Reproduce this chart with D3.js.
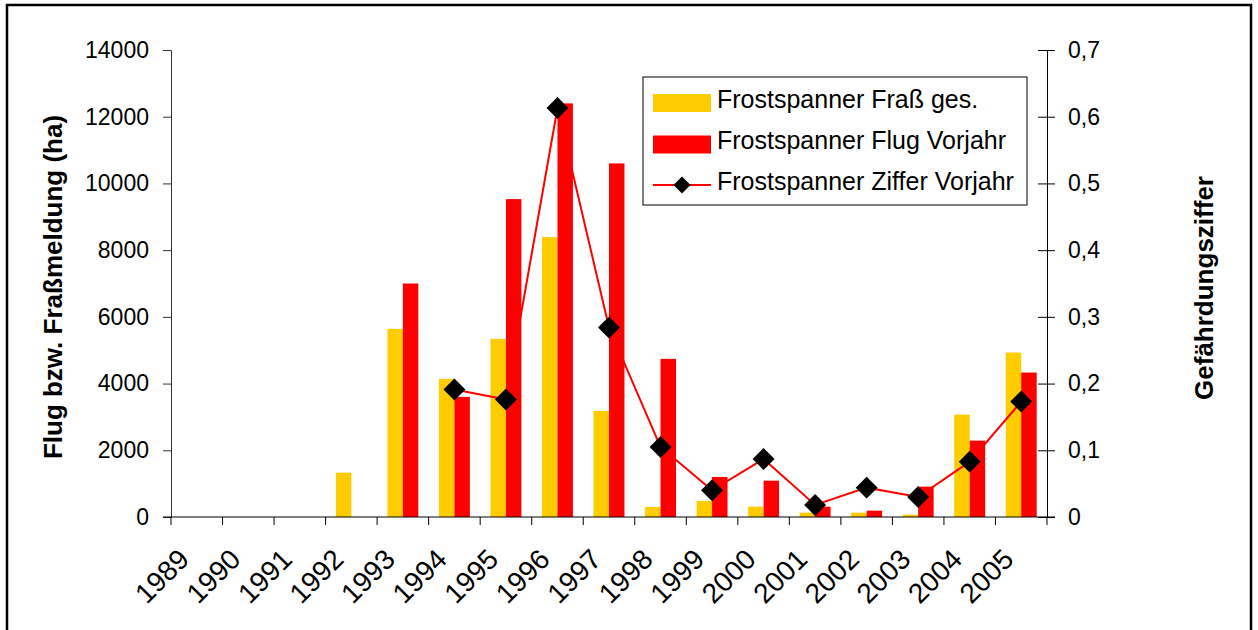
<!DOCTYPE html>
<html>
<head>
<meta charset="utf-8">
<script src="https://cdn.jsdelivr.net/npm/d3@7"></script>
<style>
  html, body { margin: 0; padding: 0; background: #fff; }
  svg { display: block; font-family: "Liberation Sans", Arial, sans-serif; }
</style>
</head>
<body>
<svg id="chart" width="1258" height="630"></svg>
<script>
// ---- data ----
const years = ["1989","1990","1991","1992","1993","1994","1995","1996","1997","1998","1999","2000","2001","2002","2003","2004","2005"];
const frassGes = [null,null,null,1330,5640,4140,5340,8390,3180,300,480,310,130,130,70,3070,4930];
const flugVorjahr = [null,null,null,null,7000,3600,9530,12400,10600,4740,1200,1090,310,190,910,2290,4330];
const zifferVorjahr = [null,null,null,null,null,0.191,0.176,0.613,0.284,0.105,0.040,0.087,0.018,0.044,0.030,0.083,0.173];
const leftTicks = [0,2000,4000,6000,8000,10000,12000,14000];
const rightTicks = [0,0.1,0.2,0.3,0.4,0.5,0.6,0.7];
const seriesNames = ["Frostspanner Fraß ges.","Frostspanner Flug Vorjahr","Frostspanner Ziffer Vorjahr"];
const leftTitle = "Flug bzw. Fraßmeldung (ha)";
const rightTitle = "Gefährdungsziffer";

const YELLOW = "#FFCC00", RED = "#FF0000";

const svg = d3.select("#chart");

// outer frame
svg.append("rect").attr("x",7).attr("y",5).attr("width",1244).attr("height",640)
  .attr("fill","none").attr("stroke","#000").attr("stroke-width",2.5);

const x = d3.scaleBand().domain(years).range([171,1047]).paddingInner(0.4).paddingOuter(0.2);
const xs = d3.scaleBand().domain(["frass","flug"]).range([0, x.bandwidth()]);
const yL = d3.scaleLinear().domain([0,14000]).range([517,50]);
const yR = d3.scaleLinear().domain([0,0.7]).range([517,50]);
const step = x.step();
const x0 = x.range()[0], x1 = x.range()[1];

// bars
const gBars = svg.append("g");
years.forEach((yr,i) => {
  if (frassGes[i] != null) {
    gBars.append("rect").attr("x", x(yr)+xs("frass")).attr("width", xs.bandwidth())
      .attr("y", yL(frassGes[i])).attr("height", yL(0)-yL(frassGes[i])).attr("fill", YELLOW);
  }
  if (flugVorjahr[i] != null) {
    gBars.append("rect").attr("x", x(yr)+xs("flug")).attr("width", xs.bandwidth())
      .attr("y", yL(flugVorjahr[i])).attr("height", yL(0)-yL(flugVorjahr[i])).attr("fill", RED);
  }
});

// left axis
const axL = svg.append("g").attr("transform",`translate(${x0},0)`)
  .call(d3.axisLeft(yL).tickValues(leftTicks).tickFormat(d3.format("d")).tickSize(8).tickPadding(14));
axL.select(".domain").attr("stroke","#333");
axL.selectAll(".tick line").attr("stroke","#333");
axL.selectAll("text").attr("font-size",23).attr("fill","#000").attr("font-family","Liberation Sans, Arial, sans-serif");

// right axis
const axR = svg.append("g").attr("transform",`translate(${x1},0)`)
  .call(d3.axisRight(yR).tickValues(rightTicks)
    .tickFormat(d => d===0 ? "0" : d3.format(".1f")(d).replace(".",",")).tickSize(8).tickPadding(13));
axR.selectAll(".tick line").attr("x1",-9).attr("stroke","#000");
axR.select(".domain").attr("stroke","#000");
axR.selectAll("text").attr("font-size",23).attr("fill","#000").attr("font-family","Liberation Sans, Arial, sans-serif");

// x axis (category boundaries)
const gx = svg.append("g");
gx.append("line").attr("x1",x0-8).attr("x2",x1+8).attr("y1",yL(0)).attr("y2",yL(0)).attr("stroke","#000");
d3.range(years.length+1).forEach(k => {
  const xx = x0 + k*step;
  gx.append("line").attr("x1",xx).attr("x2",xx).attr("y1",yL(0)).attr("y2",yL(0)+8).attr("stroke","#000");
});
years.forEach(yr => {
  const cx = x(yr) + x.bandwidth()/2 - 6;
  gx.append("text").attr("transform",`translate(${cx},${yL(0)+44}) rotate(-45)`)
    .attr("text-anchor","end").attr("font-size",28).text(yr);
});

// line series
const pts = years.map((yr,i) => ({yr, v: zifferVorjahr[i]})).filter(d => d.v != null);
const line = d3.line().x(d => x(d.yr)+x.bandwidth()/2).y(d => yR(d.v));
svg.append("path").datum(pts).attr("d", line).attr("fill","none").attr("stroke",RED).attr("stroke-width",2);
const diamond = d3.symbol().type(d3.symbolSquare).size(15.5*15.5);
svg.append("g").selectAll("path").data(pts).join("path")
  .attr("d", diamond)
  .attr("transform", d => `translate(${x(d.yr)+x.bandwidth()/2},${yR(d.v)}) rotate(45)`)
  .attr("fill","#000");

// axis titles
svg.append("text").attr("transform",`translate(62,287) rotate(-90)`).attr("text-anchor","middle")
  .attr("font-size",26).attr("font-weight","bold").text(leftTitle);
svg.append("text").attr("transform",`translate(1213,288) rotate(-90)`).attr("text-anchor","middle")
  .attr("font-size",26).attr("font-weight","bold").text(rightTitle);

// legend
const lg = svg.append("g");
lg.append("rect").attr("x",643).attr("y",77).attr("width",384).attr("height",128)
  .attr("fill","#fff").attr("stroke","#000").attr("stroke-width",1);
const rowsY = [103, 144.5, 185];
lg.append("rect").attr("x",653).attr("y",rowsY[0]-9).attr("width",58).attr("height",18).attr("fill",YELLOW);
lg.append("rect").attr("x",653).attr("y",rowsY[1]-9).attr("width",58).attr("height",18).attr("fill",RED);
lg.append("line").attr("x1",653).attr("x2",711).attr("y1",rowsY[2]).attr("y2",rowsY[2]).attr("stroke",RED).attr("stroke-width",2);
lg.append("path").attr("d", d3.symbol().type(d3.symbolSquare).size(12*12))
  .attr("transform",`translate(682,${rowsY[2]}) rotate(45)`).attr("fill","#000");
seriesNames.forEach((n,i) => {
  lg.append("text").attr("x",717).attr("y",rowsY[i]+4.5).attr("font-size",25).text(n);
});
</script>
</body>
</html>
